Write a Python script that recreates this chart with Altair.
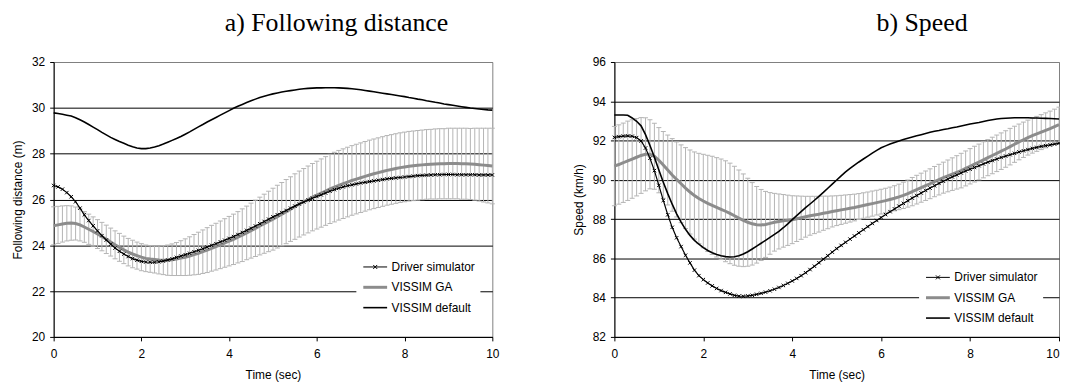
import altair as alt
import pandas as pd

# ---------------- data ----------------
time_s = [round(i * 0.1, 1) for i in range(101)]
series_names = ["Driver simulator", "VISSIM GA", "VISSIM default"]

dist_driver = [
    26.61, 26.55, 26.45, 26.30, 26.12, 25.90, 25.62, 25.33, 25.08, 24.85,
    24.63, 24.42, 24.23, 24.05, 23.88, 23.74, 23.62, 23.51, 23.42, 23.35,
    23.30, 23.27, 23.26, 23.26, 23.28, 23.31, 23.36, 23.41, 23.47, 23.53,
    23.59, 23.65, 23.72, 23.78, 23.85, 23.92, 24.00, 24.07, 24.15, 24.22,
    24.30, 24.38, 24.47, 24.56, 24.65, 24.74, 24.84, 24.94, 25.04, 25.14,
    25.24, 25.33, 25.43, 25.52, 25.62, 25.71, 25.80, 25.89, 25.97, 26.05,
    26.13, 26.20, 26.28, 26.36, 26.43, 26.49, 26.55, 26.60, 26.64, 26.68,
    26.72, 26.75, 26.78, 26.81, 26.84, 26.87, 26.90, 26.92, 26.94, 26.96,
    26.98, 27.00, 27.02, 27.04, 27.05, 27.06, 27.07, 27.08, 27.08, 27.09,
    27.09, 27.09, 27.08, 27.08, 27.08, 27.08, 27.08, 27.07, 27.07, 27.07,
    27.07]

dist_ga = [
    24.85, 24.89, 24.93, 24.96, 24.97, 24.95, 24.89, 24.80, 24.70, 24.60,
    24.49, 24.38, 24.26, 24.14, 24.02, 23.91, 23.80, 23.70, 23.62, 23.55,
    23.48, 23.43, 23.40, 23.38, 23.36, 23.35, 23.35, 23.37, 23.40, 23.44,
    23.48, 23.53, 23.59, 23.65, 23.72, 23.79, 23.87, 23.94, 24.02, 24.10,
    24.18, 24.26, 24.35, 24.44, 24.54, 24.64, 24.74, 24.84, 24.94, 25.04,
    25.14, 25.25, 25.36, 25.47, 25.58, 25.69, 25.80, 25.90, 26.00, 26.10,
    26.19, 26.28, 26.37, 26.46, 26.54, 26.62, 26.69, 26.76, 26.83, 26.89,
    26.95, 27.01, 27.07, 27.12, 27.17, 27.22, 27.27, 27.31, 27.35, 27.39,
    27.42, 27.45, 27.47, 27.49, 27.51, 27.53, 27.54, 27.55, 27.56, 27.56,
    27.57, 27.57, 27.57, 27.56, 27.56, 27.55, 27.54, 27.52, 27.50, 27.48,
    27.46]

dist_ga_sd = [
    0.83, 0.81, 0.79, 0.77, 0.75, 0.72, 0.70, 0.67, 0.66, 0.64,
    0.63, 0.62, 0.62, 0.61, 0.61, 0.61, 0.60, 0.60, 0.60, 0.59,
    0.59, 0.58, 0.58, 0.59, 0.61, 0.63, 0.66, 0.69, 0.72, 0.76,
    0.80, 0.84, 0.88, 0.92, 0.95, 0.98, 1.00, 1.02, 1.04, 1.06,
    1.08, 1.10, 1.12, 1.15, 1.17, 1.20, 1.23, 1.26, 1.29, 1.32,
    1.35, 1.37, 1.38, 1.40, 1.41, 1.43, 1.44, 1.45, 1.46, 1.47,
    1.48, 1.49, 1.50, 1.51, 1.52, 1.52, 1.52, 1.52, 1.52, 1.52,
    1.52, 1.52, 1.52, 1.52, 1.52, 1.52, 1.52, 1.52, 1.52, 1.52,
    1.52, 1.52, 1.52, 1.52, 1.52, 1.52, 1.52, 1.53, 1.53, 1.53,
    1.54, 1.54, 1.54, 1.55, 1.55, 1.55, 1.57, 1.59, 1.61, 1.63,
    1.65]

dist_default = [
    29.78, 29.75, 29.72, 29.68, 29.64, 29.57, 29.48, 29.38, 29.27, 29.16,
    29.05, 28.93, 28.82, 28.71, 28.62, 28.53, 28.45, 28.37, 28.30, 28.25,
    28.22, 28.22, 28.25, 28.29, 28.35, 28.42, 28.50, 28.58, 28.66, 28.75,
    28.85, 28.95, 29.06, 29.17, 29.27, 29.38, 29.48, 29.58, 29.68, 29.78,
    29.88, 29.98, 30.07, 30.15, 30.23, 30.31, 30.38, 30.45, 30.51, 30.56,
    30.61, 30.65, 30.69, 30.72, 30.75, 30.78, 30.81, 30.83, 30.85, 30.86,
    30.87, 30.87, 30.88, 30.88, 30.88, 30.87, 30.86, 30.85, 30.83, 30.81,
    30.79, 30.76, 30.73, 30.70, 30.67, 30.64, 30.61, 30.58, 30.55, 30.52,
    30.49, 30.45, 30.42, 30.38, 30.35, 30.31, 30.28, 30.24, 30.21, 30.17,
    30.14, 30.11, 30.08, 30.05, 30.02, 29.99, 29.97, 29.95, 29.93, 29.91,
    29.90]

speed_driver = [
    92.16, 92.20, 92.23, 92.24, 92.22, 92.15, 91.98, 91.62, 91.10, 90.47,
    89.72, 88.95, 88.22, 87.58, 87.05, 86.60, 86.16, 85.77, 85.40, 85.12,
    84.92, 84.75, 84.60, 84.47, 84.36, 84.27, 84.19, 84.12, 84.08, 84.07,
    84.09, 84.12, 84.17, 84.22, 84.28, 84.35, 84.43, 84.52, 84.62, 84.73,
    84.85, 84.98, 85.12, 85.27, 85.43, 85.60, 85.78, 85.96, 86.14, 86.32,
    86.50, 86.66, 86.82, 86.98, 87.14, 87.30, 87.46, 87.62, 87.78, 87.93,
    88.08, 88.23, 88.38, 88.52, 88.66, 88.80, 88.94, 89.07, 89.20, 89.33,
    89.46, 89.58, 89.70, 89.82, 89.93, 90.04, 90.15, 90.25, 90.35, 90.45,
    90.54, 90.63, 90.72, 90.81, 90.90, 90.98, 91.06, 91.14, 91.21, 91.28,
    91.35, 91.42, 91.48, 91.54, 91.60, 91.65, 91.70, 91.74, 91.78, 91.82,
    91.86]

speed_ga = [
    90.70, 90.78, 90.87, 90.97, 91.06, 91.15, 91.24, 91.30, 91.30, 91.20,
    91.00, 90.76, 90.50, 90.25, 90.02, 89.80, 89.58, 89.38, 89.20, 89.05,
    88.92, 88.80, 88.70, 88.60, 88.50, 88.40, 88.29, 88.17, 88.05, 87.94,
    87.84, 87.76, 87.71, 87.70, 87.73, 87.78, 87.84, 87.88, 87.91, 87.94,
    87.97, 88.02, 88.07, 88.12, 88.17, 88.21, 88.25, 88.30, 88.34, 88.39,
    88.43, 88.47, 88.51, 88.55, 88.59, 88.64, 88.69, 88.74, 88.79, 88.84,
    88.89, 88.94, 89.00, 89.06, 89.13, 89.21, 89.30, 89.40, 89.50, 89.60,
    89.70, 89.80, 89.91, 90.01, 90.11, 90.20, 90.29, 90.38, 90.47, 90.58,
    90.69, 90.80, 90.91, 91.02, 91.13, 91.24, 91.35, 91.46, 91.57, 91.69,
    91.81, 91.93, 92.04, 92.15, 92.25, 92.34, 92.43, 92.52, 92.61, 92.71,
    92.81]

speed_ga_sd = [
    2.02, 2.02, 2.02, 2.02, 2.00, 1.97, 1.93, 1.86, 1.76, 1.68,
    1.66, 1.70, 1.78, 1.85, 1.91, 1.98, 2.06, 2.14, 2.22, 2.30,
    2.38, 2.45, 2.50, 2.53, 2.56, 2.57, 2.56, 2.52, 2.45, 2.36,
    2.24, 2.10, 1.95, 1.81, 1.68, 1.57, 1.47, 1.40, 1.34, 1.28,
    1.22, 1.16, 1.10, 1.04, 0.99, 0.95, 0.91, 0.87, 0.83, 0.79,
    0.76, 0.74, 0.72, 0.70, 0.68, 0.66, 0.65, 0.64, 0.64, 0.63,
    0.63, 0.63, 0.63, 0.64, 0.65, 0.67, 0.69, 0.72, 0.73, 0.74,
    0.75, 0.76, 0.77, 0.78, 0.79, 0.81, 0.83, 0.85, 0.88, 0.89,
    0.90, 0.91, 0.91, 0.92, 0.92, 0.93, 0.93, 0.93, 0.93, 0.93,
    0.92, 0.91, 0.90, 0.89, 0.89, 0.89, 0.89, 0.89, 0.89, 0.89,
    0.89]

speed_default = [
    93.30, 93.30, 93.30, 93.29, 93.15, 92.98, 92.75, 92.30, 91.75, 91.15,
    90.50, 89.88, 89.30, 88.76, 88.27, 87.85, 87.48, 87.17, 86.92, 86.72,
    86.55, 86.40, 86.29, 86.20, 86.13, 86.09, 86.07, 86.08, 86.13, 86.22,
    86.34, 86.48, 86.62, 86.77, 86.92, 87.07, 87.22, 87.38, 87.56, 87.76,
    87.97, 88.18, 88.38, 88.58, 88.77, 88.96, 89.16, 89.36, 89.57, 89.78,
    89.99, 90.20, 90.40, 90.58, 90.75, 90.91, 91.06, 91.21, 91.36, 91.50,
    91.63, 91.73, 91.82, 91.90, 91.98, 92.05, 92.12, 92.18, 92.24, 92.30,
    92.36, 92.42, 92.47, 92.51, 92.56, 92.60, 92.65, 92.69, 92.74, 92.79,
    92.84, 92.88, 92.92, 92.97, 93.02, 93.06, 93.10, 93.12, 93.14, 93.15,
    93.16, 93.16, 93.16, 93.16, 93.15, 93.15, 93.14, 93.13, 93.12, 93.11,
    93.10]

x_ticks = [0, 2, 4, 6, 8, 10]
dist_ticks = [20, 22, 24, 26, 28, 30, 32]
speed_ticks = [82, 84, 86, 88, 90, 92, 94, 96]

# ---------------- styling ----------------
SANS = "Liberation Sans"
SERIF = "Liberation Serif"
GA_GREY = "#8c8c8c"
BAR_GREY = "#b4b4b4"

LINE_SHAPE = "M-1,0L5,0"
DRIVER_SHAPE = "M-1,0L5,0M1.5,-0.5L2.5,0.5M1.5,0.5L2.5,-0.5"

SHAPE_EXPR = (f"datum.value === '{series_names[0]}' ? '{DRIVER_SHAPE}' : '{LINE_SHAPE}'")
WIDTH_EXPR = (f"datum.value === '{series_names[1]}' ? 3 : "
              f"(datum.value === '{series_names[2]}' ? 1.6 : 1)")


def build_panel(driver, ga, sd, default, ticks, ytitle, title, title_dx,
                leg_x, leg_y, width, last_label_right=False):
    lines = pd.DataFrame({
        "t": time_s * 3,
        "value": list(driver) + list(ga) + list(default),
        "series": [series_names[0]] * len(time_s)
        + [series_names[1]] * len(time_s)
        + [series_names[2]] * len(time_s),
    })
    bars = pd.DataFrame({
        "t": time_s,
        "lo": [m - s for m, s in zip(ga, sd)],
        "hi": [m + s for m, s in zip(ga, sd)],
    })

    top = ticks[-1]
    x_axis_kw = dict(values=x_ticks, title="Time (sec)", grid=False,
                     tickSize=4, labelPadding=8, titlePadding=10,
                     labelFlush=False,
                     domainColor="black", tickColor="black")
    if last_label_right:
        x_axis_kw["labelAlign"] = {"condition": {"test": f"datum.value >= {x_ticks[-1]}",
                                                 "value": "right"},
                                   "value": "center"}
    x_axis = alt.Axis(**x_axis_kw)
    y_axis = alt.Axis(values=ticks, title=ytitle, grid=True,
                      gridColor={"condition": {"test": f"datum.value >= {top}",
                                               "value": "#808080"},
                                 "value": "black"},
                      gridWidth=1, tickSize=4, labelPadding=5, titlePadding=7,
                      domainColor="black", tickColor="black")
    x_enc = alt.X("t:Q", scale=alt.Scale(domain=[0, 10], nice=False), axis=x_axis)
    y_scale = alt.Scale(domain=[ticks[0], ticks[-1]], nice=False, zero=False)

    legend = alt.Legend(
        title=None, orient="none", legendX=leg_x, legendY=leg_y,
        fillColor="white", padding=5, symbolSize=64,
        symbolType={"expr": SHAPE_EXPR},
        symbolStrokeWidth={"expr": WIDTH_EXPR},
        symbolFillColor="transparent",
        labelFont=SANS, labelFontSize=12, labelColor="black",
        labelOffset=18.5, rowPadding=8.5,
    )
    color = alt.Color("series:N",
                      scale=alt.Scale(domain=series_names,
                                      range=["black", GA_GREY, "black"]),
                      legend=legend)

    base_bars = alt.Chart(bars)
    rules = base_bars.mark_rule(color=BAR_GREY, strokeWidth=1).encode(
        x=x_enc, y=alt.Y("lo:Q", scale=y_scale, axis=y_axis), y2="hi:Q")
    cap_hi = base_bars.mark_point(shape="M-1,0L1,0", size=25, filled=False,
                                  color=BAR_GREY, strokeWidth=1, opacity=1).encode(
        x=x_enc, y=alt.Y("hi:Q", scale=y_scale, axis=y_axis))
    cap_lo = base_bars.mark_point(shape="M-1,0L1,0", size=25, filled=False,
                                  color=BAR_GREY, strokeWidth=1, opacity=1).encode(
        x=x_enc, y=alt.Y("lo:Q", scale=y_scale, axis=y_axis))

    base_lines = alt.Chart(lines)
    y_val = alt.Y("value:Q", scale=y_scale, axis=y_axis)
    ga_line = base_lines.transform_filter(
        alt.datum.series == series_names[1]).mark_line(strokeWidth=3).encode(
        x=x_enc, y=y_val, color=color)
    def_line = base_lines.transform_filter(
        alt.datum.series == series_names[2]).mark_line(strokeWidth=1.6).encode(
        x=x_enc, y=y_val, color=color)
    drv_line = base_lines.transform_filter(
        alt.datum.series == series_names[0]).mark_line(strokeWidth=1.2).encode(
        x=x_enc, y=y_val, color=color)
    drv_pts = base_lines.transform_filter(
        alt.datum.series == series_names[0]).mark_point(
        shape="M-1,-1L1,1M-1,1L1,-1", size=12, filled=False, color="black",
        strokeWidth=1, opacity=1).encode(x=x_enc, y=y_val)

    return alt.layer(rules, cap_hi, cap_lo, ga_line, def_line, drv_line, drv_pts).properties(
        width=width, height=277,
        title=alt.TitleParams(text=title, font=SERIF, fontSize=26,
                              fontWeight="normal", color="black",
                              anchor="middle", frame="group", dx=title_dx,
                              baseline="alphabetic", offset=-1),
    )


left = build_panel(dist_driver, dist_ga, dist_ga_sd, dist_default, dist_ticks,
                   "Following distance (m)", "a) Following distance", 64,
                   305, 195.5, 442)
right = build_panel(speed_driver, speed_ga, speed_ga_sd, speed_default, speed_ticks,
                    "Speed (km/h)", "b) Speed", 86, 307, 206, 448,
                    last_label_right=True)

chart = alt.hconcat(left, right, spacing=123, bounds="flush").resolve_scale(
    color="independent").resolve_legend(color="independent").properties(
    padding={"left": 3, "top": 0, "right": -6, "bottom": 0},
    background="white",
).configure_view(stroke="#808080", strokeWidth=1).configure_axis(
    labelFont=SANS, labelFontSize=12, labelColor="black",
    titleFont=SANS, titleFontSize=12, titleColor="black", titleFontWeight="normal",
)

chart.save("out.html", embed_options={"renderer": "svg", "actions": False})
